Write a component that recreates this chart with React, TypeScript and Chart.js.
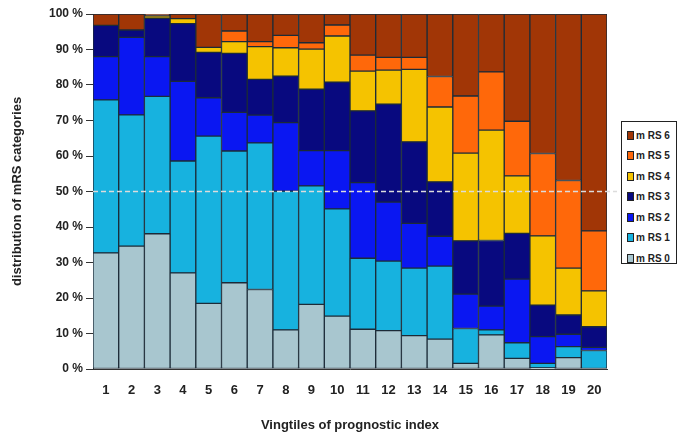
import React, { useEffect, useRef } from "react";
import { Chart, registerables } from "chart.js";

Chart.register(...registerables);

const categories = ["1", "2", "3", "4", "5", "6", "7", "8", "9", "10", "11", "12", "13", "14", "15", "16", "17", "18", "19", "20"];
const mrs0 = [32.7, 34.6, 38.1, 27.1, 18.5, 24.3, 22.4, 11, 18.2, 14.9, 11.2, 10.8, 9.4, 8.4, 1.6, 9.6, 3, 0.3, 3.2, 0];
const mrs1 = [43.1, 37, 38.7, 31.5, 47.1, 37.1, 41.3, 39.1, 33.4, 30.2, 20, 19.6, 19, 20.6, 9.8, 1.4, 4.4, 1.3, 3.1, 5.2];
const mrs2 = [12.2, 21.8, 11.2, 22.4, 10.8, 10.9, 7.8, 19.3, 9.9, 16.4, 21.3, 16.6, 12.6, 8.4, 9.7, 6.7, 17.9, 7.5, 3.5, 0.9];
const mrs3 = [8.8, 2.1, 10.8, 16.3, 12.8, 16.6, 10.1, 13.1, 17.3, 19.3, 20.2, 27.6, 23, 15.3, 15, 18.5, 12.9, 8.9, 5.4, 5.8];
const mrs4 = [0, 0, 0.7, 1.4, 1.4, 3.3, 9.2, 8, 11.3, 13, 11.2, 9.6, 20.4, 21.1, 24.7, 31.1, 16.2, 19.5, 13.2, 10.1];
const mrs5 = [0, 0, 0, 0, 0, 3, 1.4, 3.5, 1.8, 3.1, 4.5, 3.6, 3.4, 8.6, 16.1, 16.4, 15.4, 23.2, 24.7, 16.9];
const mrs6 = [3.2, 4.5, 0.5, 1.3, 9.4, 4.8, 7.8, 6, 8.1, 3.1, 11.6, 12.2, 12.2, 17.6, 23.1, 16.3, 30.2, 39.3, 46.9, 61.1];

const seriesLabels = ["m RS 0", "m RS 1", "m RS 2", "m RS 3", "m RS 4", "m RS 5", "m RS 6"];
const seriesValues = [mrs0, mrs1, mrs2, mrs3, mrs4, mrs5, mrs6];
const seriesColors = ["#a8c6cf", "#17b2df", "#0a17f2", "#08097f", "#f5c300", "#ff680a", "#a13606"];

const yTitle = "distribution of mRS categories";
const xTitle = "Vingtiles of prognostic index";
const refLine = 50;

const FONT = "'Liberation Sans', Arial, sans-serif";

const dashedLine = {
  id: "dashedLine",
  afterDatasetsDraw(chart: any) {
    const { ctx, chartArea, scales } = chart;
    const y = scales.y.getPixelForValue(refLine);
    ctx.save();
    ctx.strokeStyle = "#dcdcdc";
    ctx.lineWidth = 1.5;
    ctx.setLineDash([5, 3]);
    ctx.beginPath();
    ctx.moveTo(chartArea.left, y);
    ctx.lineTo(chartArea.right + 10, y);
    ctx.stroke();
    ctx.restore();
  },
};

export default function App() {
  const ref = useRef<HTMLCanvasElement>(null);
  useEffect(() => {
    if (!ref.current) return;
    const chart = new Chart(ref.current, {
      type: "bar",
      data: {
        labels: categories,
        datasets: seriesValues.map((vals, i) => ({
          label: seriesLabels[i],
          data: vals,
          backgroundColor: seriesColors[i],
          borderColor: "#1c2b38",
          borderWidth: 1,
          borderSkipped: false,
          categoryPercentage: 1,
          barPercentage: 1,
        })),
      },
      options: {
        animation: false,
        responsive: false,
        layout: { padding: { left: 0, right: 78, top: 14, bottom: 0 } },
        plugins: { legend: { display: false }, tooltip: { enabled: false } },
        scales: {
          x: {
            stacked: true,
            grid: { display: false, drawTicks: false },
            border: { display: true, color: "#333", width: 1 },
            ticks: { padding: 14, color: "#222", font: { family: FONT, size: 13, weight: "bold" } },
            title: {
              display: true,
              text: xTitle,
              color: "#222",
              font: { family: FONT, size: 13, weight: "bold" },
              padding: { top: 0, bottom: 11 },
            },
            afterFit: (s: any) => {
              s.height = 75;
            },
          },
          y: {
            stacked: true,
            min: 0,
            max: 100,
            grid: { drawOnChartArea: false, drawTicks: true, tickLength: 7, color: "#333" },
            border: { display: true, color: "#333", width: 1 },
            ticks: {
              stepSize: 10,
              padding: 3,
              color: "#222",
              font: { family: FONT, size: 12, weight: "bold" },
              callback: (v: any) => v + " %",
            },
            title: {
              display: true,
              text: yTitle,
              color: "#222",
              font: { family: FONT, size: 13, weight: "bold" },
              padding: { top: 10, bottom: 0 },
            },
            afterFit: (s: any) => {
              s.width = 93;
            },
          },
        },
      },
      plugins: [dashedLine],
    });
    return () => chart.destroy();
  }, []);

  const legendOrder = seriesLabels.map((_, i) => i).reverse();

  return (
    <div style={{ position: "absolute", left: 0, top: 0, width: 685, height: 444, background: "#fff" }}>
      <canvas ref={ref} width={685} height={444} style={{ display: "block" }} />
      <div
        style={{
          position: "absolute",
          left: 621,
          top: 121,
          width: 56,
          height: 143,
          border: "1px solid #222",
          boxSizing: "border-box",
          background: "#fff",
          paddingTop: 3,
        }}
      >
        {legendOrder.map((i) => (
          <div
            key={i}
            style={{
              height: 20.5,
              display: "flex",
              alignItems: "center",
              fontFamily: FONT,
              fontWeight: "bold",
              fontSize: 10,
              color: "#222",
              whiteSpace: "nowrap",
            }}
          >
            <span
              style={{
                display: "inline-block",
                width: 5,
                height: 7,
                marginLeft: 5,
                marginRight: 2,
                background: seriesColors[i],
                border: "1px solid #222",
              }}
            />
            {seriesLabels[i]}
          </div>
        ))}
      </div>
    </div>
  );
}
